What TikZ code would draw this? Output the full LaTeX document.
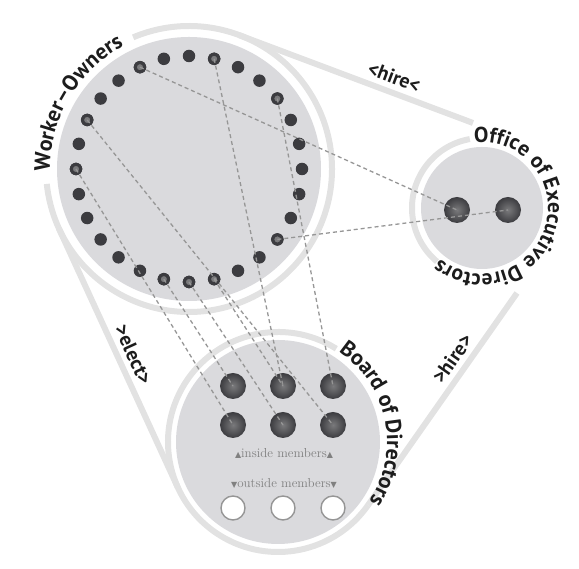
\documentclass[tikz,border=0pt]{standalone}
\usepackage{fontspec}
\setsansfont{PT Sans}
\newfontfamily\symfont{DejaVu Sans}
\usetikzlibrary{decorations.text}

\definecolor{diskgray}{RGB}{218,218,221}
\definecolor{beltgray}{RGB}{226,226,226}
\definecolor{dotgray}{RGB}{60,60,64}
\definecolor{litgray}{RGB}{122,122,124}
\definecolor{dashgray}{RGB}{150,150,150}
\definecolor{notegray}{RGB}{128,128,128}
\definecolor{inkgray}{RGB}{28,28,28}

\newcommand\arcfont{\sffamily\bfseries\fontsize{22}{22}\selectfont}
\newcommand\execfont{\sffamily\bfseries\fontsize{21.5}{21.5}\selectfont}
\newcommand\uptri{{\symfont\fontsize{8}{8}\selectfont ▲}}
\newcommand\downtri{{\symfont\fontsize{8}{8}\selectfont ▼}}

\begin{document}
\begin{tikzpicture}[x=1pt, y=1pt,
  disk/.style={circle, fill=diskgray, inner sep=0pt},
  belt/.style={draw=beltgray, line width=6pt},
  wdot/.style={circle, fill=dotgray, inner sep=0pt, minimum size=12.5pt},
  hdot/.style={circle, fill=litgray, draw=dotgray, line width=3pt, inner sep=0pt, minimum size=9.5pt},
  bigdot/.style={circle, shading=radial, inner color=litgray, outer color=dotgray, inner sep=0pt, minimum size=26pt},
  emptydot/.style={circle, fill=white, draw=dashgray, line width=1.4pt, inner sep=0pt, minimum size=24pt},
  link/.style={draw=dashgray, line width=1.3pt, dash pattern=on 4pt off 3pt},
  tag/.style={font=\sffamily\bfseries\fontsize{20}{20}\selectfont, text=inkgray, inner sep=1pt},
  note/.style={font=\fontsize{13}{13}\selectfont, text=notegray, inner sep=0pt}
]
  \useasboundingbox (0,0) rectangle (579,569);

  % Circles
  \node[disk, minimum size=264pt] (wo) at (189,400) {};
  \node[disk, minimum size=122pt] (exec) at (482,361) {};
  \node[disk, minimum size=204pt] (board) at (278,127) {};

  % Belt
  \coordinate (t1) at (239.3,533.8);
  \coordinate (t2) at (473,446);
  \coordinate (l1) at (59,340.3);
  \coordinate (l2) at (178,81.1);
  \coordinate (r1) at (368,63.8);
  \coordinate (r2) at (517,276);
  \draw[belt] ([shift={(-174:143)}]wo.center) arc[start angle=-174, end angle=113, radius=143];
  \draw[belt] ([shift={(100:70)}]exec.center) arc[start angle=100, end angle=230, radius=70];
  \draw[belt] ([shift={(58:110)}]board.center) arc[start angle=58, end angle=325, radius=110];
  \draw[belt] (t1) -- node[tag, sloped, above=4pt, pos=0.64] {<hire<} (t2);
  \draw[belt] (l1) -- node[tag, sloped, above=4pt, pos=0.51] {>elect>} (l2);
  \draw[belt] (r1) -- node[tag, sloped, above=4pt, pos=0.65] {>hire>} (r2);

  % Names along the rings
  \path[decorate, decoration={text along path, text align=center, text color=inkgray,
      text={|\arcfont|Worker–Owners}}]
    ([shift={(220:139)}]wo.center) arc[start angle=220, end angle=79, radius=139];
  \path[decorate, decoration={text along path, text align=center, text color=inkgray,
      text={|\execfont|Office of Executive Directors}}]
    ([shift={(150:66)}]exec.center) arc[start angle=150, end angle=-183, radius=66];
  \path[decorate, decoration={text along path, text align=center, text color=inkgray,
      text={|\arcfont|Board of Directors}}]
    ([shift={(100:109)}]board.center) arc[start angle=100, end angle=-77, radius=109];

  % Worker-owners
  \foreach \k in {0,...,27}
    \node[wdot] (w\k) at ([shift={(\k*360/28:113)}]wo.center) {};
  \foreach \k in {3,6,9,12,14,20,21,22,25}
    \node[hdot] (h\k) at (w\k) {};

  % Executive directors
  \node[bigdot] (e1) at (457,359) {};
  \node[bigdot] (e2) at (508,359) {};

  % Board members
  \foreach \c/\x in {1/233,2/283,3/333} {
    \node[bigdot] (b1\c) at (\x,183) {};
    \node[bigdot] (b2\c) at (\x,144) {};
    \node[emptydot] (o\c) at (\x,61) {};
  }
  \node[note] (inside) at (284,116) {\uptri inside members\uptri};
  \node[note] (outside) at (284,86) {\downtri outside members\downtri};

  % Links
  \draw[link] (h9.center) -- (e1.center);
  \draw[link] (h25.center) -- (e2.center);
  \draw[link] (h14.center) -- (b21.center);
  \draw[link] (h20.center) -- (b11.center);
  \draw[link] (h21.center) -- (b22.center);
  \draw[link] (h22.center) -- (b12.center);
  \draw[link] (h6.center) -- (b12.center);
  \draw[link] (h3.center) -- (b13.center);
  \draw[link] (h12.center) -- (b23.center);
\end{tikzpicture}
\end{document}
